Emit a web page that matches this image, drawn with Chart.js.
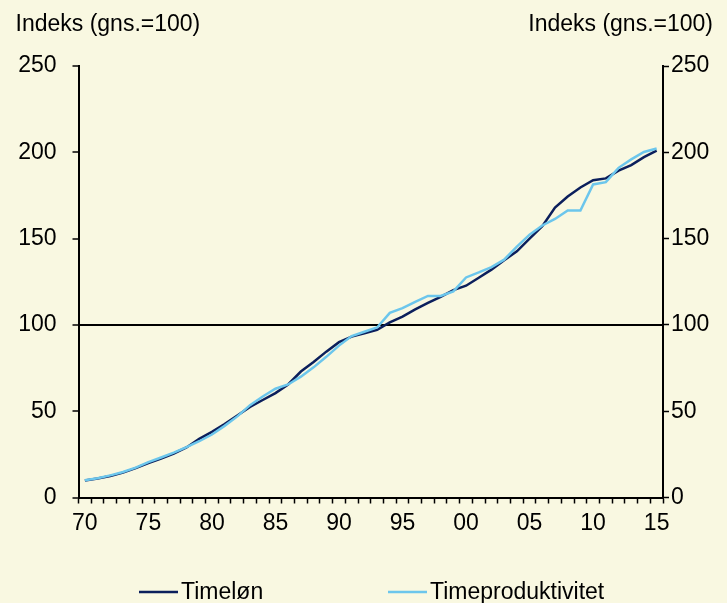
<!DOCTYPE html>
<html>
<head>
<meta charset="utf-8">
<script src="https://cdn.jsdelivr.net/npm/chart.js@4.4.1/dist/chart.umd.min.js"></script>
<style>
  html, body { margin: 0; padding: 0; background: #F9F8E1; }
  #wrap { position: relative; width: 727px; height: 603px; }
</style>
</head>
<body>
<div id="wrap"><canvas id="c"></canvas></div>
<script>
// ---- data ----
const years = [1970,1971,1972,1973,1974,1975,1976,1977,1978,1979,
               1980,1981,1982,1983,1984,1985,1986,1987,1988,1989,
               1990,1991,1992,1993,1994,1995,1996,1997,1998,1999,
               2000,2001,2002,2003,2004,2005,2006,2007,2008,2009,
               2010,2011,2012,2013,2014,2015];
const timelon = [9.8,11,12.4,14.4,17,20,22.5,25.5,29,34,
                 38,42.5,47.5,52.5,56.5,60.5,65.5,73,78.5,84.5,
                 90,93.2,95.2,97.2,101.5,104.8,109,112.7,116.2,120.2,
                 122.7,127.3,132,137.4,142.6,150,157.2,168,174.4,179.6,
                 183.8,184.9,189.4,192.6,197.2,201];
const timeproduktivitet = [10,11.2,12.8,14.8,17.3,20.5,23.2,26,29.2,32.6,
                 36.5,41.5,47,53.5,58.5,63,65.5,70,75.4,81.5,
                 88,93.5,96,98.5,107,109.7,113.4,116.8,116.8,119.4,
                 127.5,130.4,133.5,137.8,145.3,152.3,157.6,161.4,166.3,166.3,
                 181.4,182.7,191,195.9,200.2,202.2];
const labelYears = [1970,1975,1980,1985,1990,1995,2000,2005,2010,2015];
const tickLabels = ['70','75','80','85','90','95','00','05','10','15'];
const yTicks = [0,50,100,150,200,250];
const seriesNames = ['Timeløn','Timeproduktivitet'];
const axisTitle = 'Indeks (gns.=100)';

const FONT = '"Liberation Sans", Arial, sans-serif';
const BG = '#F9F8E1';
const DARK = '#0B1F5C';
const LIGHT = '#6CC6EC';

const decor = {
  id: 'decor',
  beforeDraw(chart) {
    const ctx = chart.ctx;
    ctx.save();
    ctx.fillStyle = BG;
    ctx.fillRect(0, 0, chart.width, chart.height);
    ctx.restore();
  },
  afterDraw(chart) {
    const ctx = chart.ctx;
    ctx.save();
    ctx.font = '23px ' + FONT;
    ctx.fillStyle = '#000';
    ctx.textBaseline = 'alphabetic';
    ctx.textAlign = 'left';
    ctx.fillText(axisTitle, 15.5, 31);
    ctx.textAlign = 'right';
    ctx.fillText(axisTitle, 713, 31);
    // legend
    const lx = [139, 388];
    chart.data.datasets.forEach((ds, i) => {
      ctx.strokeStyle = ds.borderColor;
      ctx.lineWidth = 2.5;
      ctx.beginPath();
      ctx.moveTo(lx[i], 592);
      ctx.lineTo(lx[i] + 39, 592);
      ctx.stroke();
      ctx.textAlign = 'left';
      ctx.fillStyle = '#000';
      ctx.fillText(ds.label, lx[i] + 42, 598.5);
    });
    ctx.restore();
  }
};

new Chart(document.getElementById('c'), {
  type: 'line',
  data: {
    labels: years,
    datasets: [
      { label: seriesNames[0], data: timelon, borderColor: DARK, backgroundColor: DARK,
        borderWidth: 2.5, pointRadius: 0, tension: 0, order: 2 },
      { label: seriesNames[1], data: timeproduktivitet, borderColor: LIGHT, backgroundColor: LIGHT,
        borderWidth: 2.5, pointRadius: 0, tension: 0, order: 1 }
    ]
  },
  options: {
    responsive: true,
    maintainAspectRatio: false,
    animation: false,
    layout: { padding: { left: 0, right: 0, top: 66, bottom: 0 } },
    plugins: { legend: { display: false }, tooltip: { enabled: false } },
    scales: {
      x: {
        type: 'category',
        offset: true,
        grid: { offset: true, drawOnChartArea: false, drawTicks: true, tickLength: 6, tickColor: '#000', tickWidth: 1.5 },
        border: { color: '#000', width: 2 },
        ticks: {
          autoSkip: false, maxRotation: 0, minRotation: 0, padding: 6,
          color: '#000', font: { family: FONT, size: 23 },
          callback: function(v, i) {
            const yr = years[i];
            const k = labelYears.indexOf(yr);
            return k >= 0 ? tickLabels[k] : '';
          }
        },
        afterFit(s) { s.height = 105.5; }
      },
      y: {
        position: 'left',
        min: 0, max: 250,
        afterBuildTicks(s) { s.ticks = yTicks.map(v => ({ value: v })); },
        grid: {
          drawOnChartArea: true, drawTicks: true, tickLength: 6, tickColor: '#000', tickWidth: 1.5,
          color: (c) => (c.tick && c.tick.value === 100) ? '#000' : 'rgba(0,0,0,0)',
          lineWidth: 2
        },
        border: { color: '#000', width: 2 },
        ticks: { padding: 16, color: '#000', font: { family: FONT, size: 23 } },
        afterFit(s) { s.width = 78.5; }
      },
      y2: {
        position: 'right',
        min: 0, max: 250,
        afterBuildTicks(s) { s.ticks = yTicks.map(v => ({ value: v })); },
        grid: { drawOnChartArea: false, drawTicks: true, tickLength: 6, tickColor: '#000', tickWidth: 1.5 },
        border: { color: '#000', width: 2 },
        ticks: { padding: 2, color: '#000', font: { family: FONT, size: 23 } },
        afterFit(s) { s.width = 64; }
      }
    }
  },
  plugins: [decor]
});
</script>
</body>
</html>
